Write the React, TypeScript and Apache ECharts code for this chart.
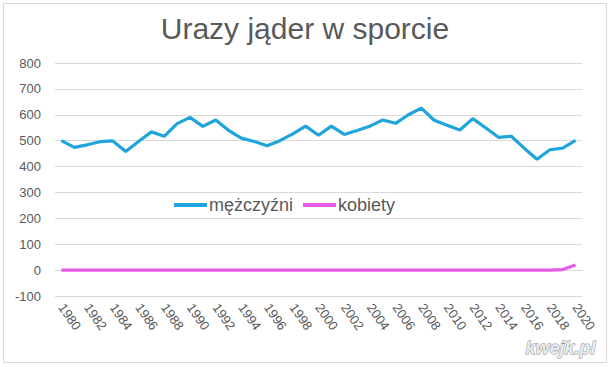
import React, { useEffect, useRef } from "react";
import * as echarts from "echarts";

const years: string[] = [];
for (let y = 1980; y <= 2020; y++) years.push(String(y));

const menValues = [
  500, 474, 484, 496, 499, 458, 497, 534, 517, 566,
  590, 555, 580, 540, 510, 497, 480, 500, 526, 556,
  521, 556, 524, 539, 556, 580, 567, 600, 626, 579,
  560, 541, 585, 550, 513, 517, 471, 428, 465, 471,
  501,
];

const womenValues = [
  0, 0, 0, 0, 0, 0, 0, 0, 0, 0,
  0, 0, 0, 0, 0, 0, 0, 0, 0, 0,
  0, 0, 0, 0, 0, 0, 0, 0, 0, 0,
  0, 0, 0, 0, 0, 0, 0, 0, 0, 2,
  20,
];

const seriesNames = ["mężczyźni", "kobiety"];
const titleText = "Urazy jąder w sporcie";

const FONT = "'Liberation Sans', Arial, sans-serif";
const TEXT = "#595959";
const GRID = "#d9d9d9";

export default function App() {
  const ref = useRef<HTMLDivElement>(null);

  useEffect(() => {
    document.body.style.margin = "0";
    if (!ref.current) return;
    const chart = echarts.init(ref.current, undefined, { renderer: "svg" });
    chart.setOption({
      animation: false,
      backgroundColor: "#ffffff",
      textStyle: { fontFamily: FONT },
      title: {
        text: titleText,
        left: "center",
        top: 8,
        textStyle: { fontFamily: FONT, fontSize: 30, fontWeight: "normal", color: TEXT },
      },
      legend: {
        left: 169,
        top: 191,
        icon: "rect",
        itemWidth: 33,
        itemHeight: 4,
        itemGap: 10,
        textStyle: { fontFamily: FONT, fontSize: 18, color: TEXT, padding: [0, 0, 0, -3] },
        data: seriesNames,
      },
      grid: { left: 55, right: 28, top: 63, bottom: 71 },
      xAxis: {
        type: "category",
        data: years,
        boundaryGap: true,
        axisLine: { show: true, onZero: true, lineStyle: { color: GRID } },
        axisTick: { show: false },
        axisLabel: {
          interval: 1,
          rotate: -55,
          fontFamily: FONT,
          fontSize: 13,
          color: TEXT,
          margin: 9,
        },
      },
      yAxis: {
        type: "value",
        min: -100,
        max: 800,
        interval: 100,
        axisLine: { show: false },
        axisTick: { show: false },
        splitLine: { show: true, lineStyle: { color: GRID, width: 1 } },
        axisLabel: { fontFamily: FONT, fontSize: 13, color: TEXT, margin: 14 },
      },
      series: [
        {
          name: seriesNames[0],
          type: "line",
          data: menValues,
          symbol: "none",
          lineStyle: { color: "#1fa5dc", width: 3.2 },
          itemStyle: { color: "#1fa5dc" },
        },
        {
          name: seriesNames[1],
          type: "line",
          data: womenValues,
          symbol: "none",
          lineStyle: { color: "#e35be6", width: 3.2 },
          itemStyle: { color: "#e35be6" },
        },
      ],
      graphic: [
        {
          type: "rect",
          shape: { x: 3.5, y: 3.5, width: 603, height: 359 },
          style: { fill: "none", stroke: "#d9d9d9", lineWidth: 1 },
          silent: true,
        },
        {
          type: "text",
          right: 14,
          bottom: 10,
          style: {
            text: "kwejk.pl",
            fontFamily: FONT,
            fontSize: 18,
            fontStyle: "italic",
            fontWeight: "bold",
            fill: "#e8ecef",
            stroke: "#8a9299",
            lineWidth: 1,
          },
          silent: true,
        },
      ],
    });
    return () => chart.dispose();
  }, []);

  return (
    <div
      ref={ref}
      style={{ width: 610, height: 367, position: "absolute", left: 0, top: 0 }}
    />
  );
}
